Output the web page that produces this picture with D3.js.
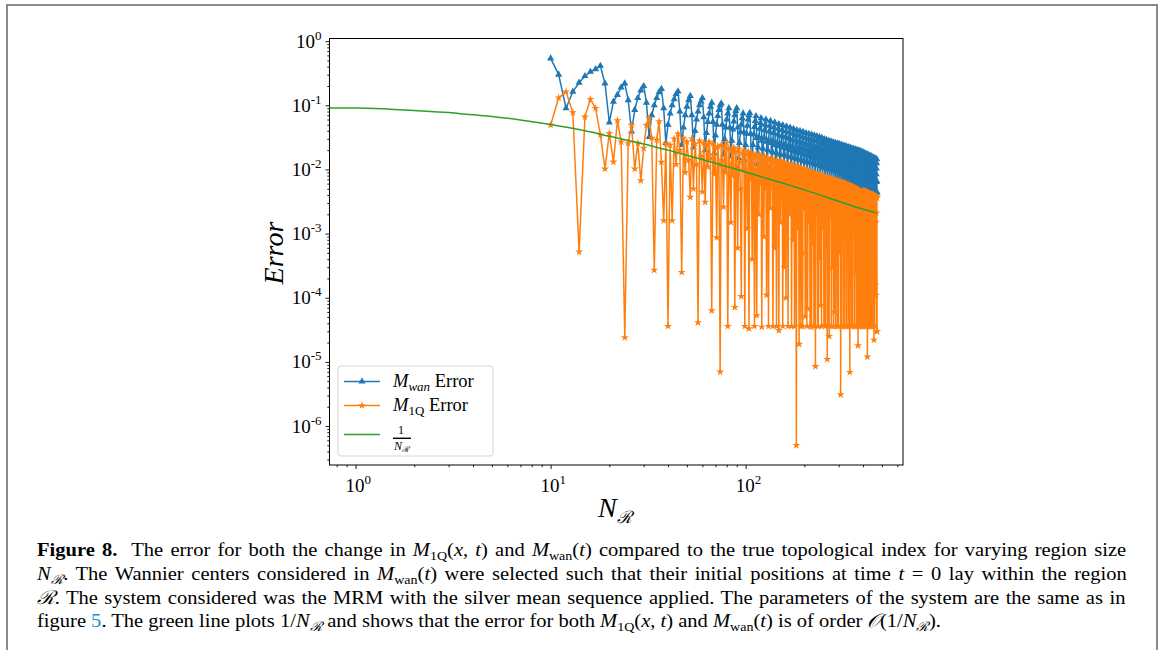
<!DOCTYPE html>
<html>
<head>
<meta charset="utf-8">
<script src="https://cdn.jsdelivr.net/npm/d3@7"></script>
<style>
  body { margin: 0; background: #fff; }
  svg { display: block; }
  text { font-family: "Liberation Serif", "Times New Roman", serif; fill: #000; }
</style>
</head>
<body>
<svg id="fig" width="1163" height="650"></svg>
<script>
// Region sizes N run 10, 11, 12, ... (one point per integer)
const nStart = 10

// M_wan error (N = 10 .. 472)
const blueErr = [
  .54, .30, .090, .163, .225, .286, .333, .367, .413, .22,
  .054, .114, .145, .19, .22, .12, .039, .085, .13, .17,
  .20, .11, .032, .07, .10, .13, .16, .18, .09, .026,
  .05, .075, .10, .125, .15, .165, .08, .024, .045, .07,
  .095, .12, .14, .07, .022, .04, .06, .08, .10, .115,
  .13, .065, .02, .037, .055, .075, .095, .11, .055, .018,
  .034, .05, .068, .085, .10, .107, .05, .017, .03, .045,
  .06, .075, .09, .045, .016, .028, .042, .056, .07, .082,
  .09, .045, .015, .026, .038, .05, .063, .075, .038, .014,
  .024, .036, .048, .06, .07, .076, .036, .013,
  // 108
  .0125, .024, .035, .046, .057, .068, .031,
  .012, .022, .032, .043, .053, .063, .028,
  .0115, .021, .031, .041, .050, .060, .027,
  .011, .020, .029, .039, .048, .057, .026,
  .0105, .019, .028, .037, .045, .054, .024,
  .010, .018, .026, .035, .043, .051, .023,
  .0095, .017, .025, .033, .041, .049, .022,
  .0092, .017, .024, .032, .039, .047, .021,
  .0089, .016, .023, .031, .038, .045, .020,
  .0086, .0155, .022, .029, .036, .043, .019,
  // 178
  .0083, .015, .021, .028, .034, .041, .018,
  .008, .0144, .021, .027, .034, .040, .018,
  .0078, .014, .020, .026, .032, .0385, .017,
  .0076, .0135, .019, .025, .031, .037, .0165,
  .0074, .013, .019, .024, .030, .036, .016,
  .0072, .0128, .018, .024, .029, .035, .0155,
  .007, .0124, .018, .023, .028, .034, .015,
  .0068, .012, .017, .022, .028, .033, .0148,
  .0066, .0117, .017, .022, .027, .032, .0144,
  .0064, .0113, .016, .021, .026, .031, .014,
  // 248
  .0062, .0109, .0156, .020, .025, .0298, .0134,
  .006, .0106, .0152, .0198, .0244, .029, .013,
  .0059, .0103, .0147, .019, .0236, .028, .0126,
  .0058, .0101, .0144, .0187, .023, .0274, .0123,
  .0057, .0099, .014, .0182, .0224, .0266, .012,
  .0056, .0097, .0138, .0179, .022, .026, .0117,
  .0055, .0095, .0135, .0175, .0215, .0255, .0115,
  .0054, .0093, .0132, .0171, .021, .025, .0112,
  .0053, .0091, .0129, .0167, .0205, .0243, .011,
  .0052, .0089, .0126, .0164, .0201, .0238, .0107,
  // 318
  .0052, .0088, .0124, .016, .0197, .0233, .0105,
  .0051, .0086, .0122, .0157, .0193, .0228, .0103,
  .005, .0084, .0119, .0153, .0188, .0222, .01,
  .005, .0084, .0117, .0151, .0184, .0218, .0098,
  .0049, .0082, .0115, .0148, .018, .0213, .0096,
  .0049, .0081, .0113, .0146, .0178, .021, .0095,
  .0048, .008, .0111, .0143, .0174, .0206, .0093,
  .0048, .0079, .011, .014, .0171, .0202, .0091,
  .0047, .0077, .0107, .0138, .0168, .0198, .0089,
  .0047, .0076, .0106, .0135, .0165, .0194, .0087,
  // 388
  .0047, .0076, .0104, .0133, .0161, .019, .0086,
  .0046, .0074, .0102, .0131, .0159, .0187, .0084,
  .0046, .0073, .01, .0126, .0153, .018, .0081,
  .0046, .0072, .0098, .0124, .015, .0176, .0079,
  .0045, .007, .0096, .0121, .0147, .0172, .0077,
  .0045, .007, .0094, .0119, .0143, .0168, .0076,
  .0045, .0069, .0093, .0116, .014, .0164, .0074,
  .0045, .0068, .0091, .0114, .0137, .016, .0072,
  .0044, .0066, .0089, .0111, .0134, .0156, .007,
  .0044, .0066, .0087, .0109, .013, .0152, .0068,
  // 458
  .0044, .0065, .0086, .0106, .0127, .0148, .0067,
  .0044, .0064, .0084, .0104, .0125, .0145, .0065,
  .0044
]

// M_1Q error (N = 10 .. 472, ten per row)
const orangeErr = [
  .049, .131, .163, .077, 5.2e-4, .066, .124, .09, .0345, .0102,
  .0367, .0131, .058, .027, 2.4e-5, .0257, .049, .0102, .0257, .0067,
  .0215, .049, .063, .031, 2.7e-4, .029, .056, .013, .0016, .025,
  3.6e-5, .024, .0016, .030, .012, .036, .02, 2.5e-4, .031, .009,
  .027, .014, 3.7e-3, .03, 5e-3, .025, .012, 4.1e-5, .028, .016,
  4.5e-3, .026, 3.1e-3, .024, .011, .027, .015, 6.3e-5, .025, .0085,
  .022, 8.7e-4, .023, .012, 7e-6, .024, .014, 2.6e-3, .022, .009,
  .026, 3.6e-5, .021, .012, 1.5e-3, .02, .008, .022, 7.1e-5, .019,
  .011, 6e-4, .021, .013, .005, 1.05e-4, .018, .01, .02, 3.6e-5,
  .017, .0085, 1.2e-3, .019, 3.3e-5, .016, .007, .018, 4e-4, .015,
  .009, 3.6e-5, .017, .0065, 5.3e-5, .016, .01, 2e-3, .017, .006,
  .014, 3.5e-5, .015, .008, 9e-4, .016, .005, .013, 1.1e-4, .015,
  .0075, 3.6e-5, .014, .006, 2.5e-3, .015, .0085, .013, 3.6e-5, .0055,
  .014, 6e-4, .013, .007, 3.6e-5, .014, .005, .012, 3.1e-5, .013,
  .0065, 1.5e-3, .0135, .0045, .012, 3.6e-5, .013, .006, 3e-4, .012,
  .007, 1e-4, .0125, .0045, .011, 3.6e-5, .012, .0055, 2e-3, .0115,
  .0065, .011, 3.6e-5, .012, .005, 8e-4, .011, .006, 3.6e-5, .0105,
  .0045, .011, 5e-7, .0105, .0055, 1.2e-3, .011, .004, 1.9e-5, .0105,
  .006, .0095, 3.6e-5, .0105, .0045, 5e-4, 3.6e-5, .01, .0055, .0095,
  2.5e-3, .01, 5.1e-5, .0095, .004, .0098, 3.6e-5, .009, 6.7e-5, .0095,
  .005, 1.5e-3, .0092, .0038, 3.6e-5, .009, .0055, .0088, 3.5e-5, .009,
  .004, 7e-4, .0088, .005, 3.6e-5, .0085, .0035, .0087, 8.5e-6, .0083,
  .0048, 2e-3, .0085, .0036, 3.6e-5, .0082, 3.6e-5, .0084, .0045, 4e-4,
  .008, .0034, 7.6e-5, .0081, .0045, 3.6e-5, .0078, .003, .008, 1.2e-3,
  .0076, .0042, 3.7e-5, .0077, .0032, .0075, 3.6e-5, .0076, .0043, 6e-4,
  .0074, .003, 1.1e-5, .0074, .004, .0072, 3.6e-5, .0073, 2.5e-5, .0071,
  .0032, 1.8e-3, .0072, .0041, .007, 3.6e-5, .0071, .0029, 3e-4, .0069,
  .004, .0068, 3.6e-5, .007, .0028, 6e-5, .0068, .0039, .0066, 3.6e-5,
  .0067, .0027, 1e-3, .0065, .0038, 3.6e-5, .0066, .0026, .0064, 3.6e-5,
  .0065, .0037, 5e-4, .0064, .0026, .0063, .0062, 3.1e-6, .0063, .0036,
  .0062, 3.6e-5, .0061, .0025, 2e-3, .0062, .0035, .006, 3.6e-5, .0061,
  3.6e-5, .006, .0024, 8e-4, .0059, .0034, .006, 3.6e-5, .0058, .0024,
  .0059, 3.6e-5, .0057, .0033, 1.5e-3, .0058, .0023, .0056, 3.6e-5, .0057,
  .0032, .0055, 6.9e-6, .0056, .0023, 4e-4, .0054, .0031, .0055, 3.6e-5,
  .0053, .0022, 3.6e-5, .0054, .003, .0052, 1e-3, .0053, .0021, .0051,
  3.6e-5, .0052, .003, 3.6e-5, .005, .0021, .0051, 2.5e-4, .0049, .0029,
  .005, 3.6e-5, .0048, .002, .0049, 1.8e-3, .0047, 1.8e-5, .0048, .0028,
  .0046, 3.6e-5, .0047, .002, .0045, 3.6e-5, .0046, .0027, 7e-4, .0045,
  .0019, .0044, 3.6e-5, .0045, .0027, 3.6e-5, .0043, .0019, .0044, 3.6e-5,
  .0047, .0026, 1.2e-3, .0046, .0018, .0045, 3.6e-5, .0046, .0026, .0044,
  3.6e-5, .0045, .0018, 3e-4, .0044, .0025, .0045, 3.6e-5, .0043, .0017,
  .0044, 1.2e-5, .0043, .0025, .0042, 3.6e-5, .0043, .0017, 2e-3, .0042,
  .0024, .0041, 3.6e-5, .0042, .0016, .0041, 3.6e-5, .004, .0024, .0041,
  3.6e-5, .0041, .0016, .004, 3.6e-5, .0041, .0023, 1e-3, .004, .0016,
  .0039, 3.6e-5, .004, .0022, .0039, 2.2e-5, .0039, .0015, .0038, 3.6e-5,
  .0039, .0022, 1.6e-4, .0038, .0015, .0037, 1.1e-4, .0038, .0021, .0037,
  3e-5, .0036, 3e-5
]

// green reference curve, sampled off the plot
const greenN = [0.735, 1, 1.5, 2, 3, 4, 5, 7, 10, 15, 20, 30, 40, 50, 70, 100, 150, 200, 300, 400, 470]
const greenErr = [0.0909, 0.0909, 0.087, 0.083, 0.077, 0.071, 0.067, 0.059, 0.050, 0.040, 0.033,
  0.025, 0.020, 0.0167, 0.0125, 0.0091, 0.0063, 0.0048, 0.0032, 0.0024, 0.0021]

const xTicks = [1, 10, 100]
const xTickExp = ["0", "1", "2"]
const yTicks = [1, 1e-1, 1e-2, 1e-3, 1e-4, 1e-5, 1e-6]
const yTickExp = ["0", "-1", "-2", "-3", "-4", "-5", "-6"]

const blueColor = "#1f77b4"
const orangeColor = "#ff7f0e"
const greenColor = "#2ca02c"

const svg = d3.select("#fig")
const box = { left: 329.5, right: 903, top: 38.5, bottom: 465 }

const x = d3.scaleLog().domain([0.735, 641]).range([box.left, box.right])
const y = d3.scaleLog().domain([2.47e-7, 1.1]).range([box.bottom, box.top])

const blue = blueErr.map((v, i) => [nStart + i, v])
const orange = orangeErr.map((v, i) => [nStart + i, v])
const green = greenN.map((n, i) => [n, greenErr[i]])

// page frame
svg.append("path")
  .attr("d", "M7,650V5H1157V650")
  .attr("fill", "none")
  .attr("stroke", "#8a8a8a")
  .attr("stroke-width", 2)

// axes: minor ticks, major ticks
const isPow10 = v => Math.abs(Math.log10(v) - Math.round(Math.log10(v))) < 1e-9
const xMinor = x.ticks().filter(v => !isPow10(v))
const yMinor = y.ticks().filter(v => !isPow10(v))

const xAxisG = svg.append("g").attr("transform", `translate(0,${box.bottom})`)
xAxisG.append("g").call(d3.axisBottom(x).tickValues(xMinor).tickSize(2.2).tickFormat(""))
xAxisG.append("g").call(d3.axisBottom(x).tickValues(xTicks).tickSize(4).tickFormat(""))

const yAxisG = svg.append("g").attr("transform", `translate(${box.left},0)`)
yAxisG.append("g").call(d3.axisLeft(y).tickValues(yMinor).tickSize(2.2).tickFormat(""))
yAxisG.append("g").call(d3.axisLeft(y).tickValues(yTicks).tickSize(4).tickFormat(""))

svg.selectAll(".domain").remove()
svg.selectAll(".tick line").attr("stroke", "#000").attr("stroke-width", 0.9)

// tick labels 10^k
xTicks.forEach((v, i) => {
  const t = svg.append("text")
    .attr("x", x(v) - 10)
    .attr("y", box.bottom + 27)
    .attr("font-size", 19)
  t.append("tspan").text("10")
  t.append("tspan").attr("dy", -8).attr("font-size", 13).text(xTickExp[i])
})

yTicks.forEach((v, i) => {
  const t = svg.append("text")
    .attr("x", box.left - 8)
    .attr("y", y(v) + 6.5)
    .attr("font-size", 19)
    .attr("text-anchor", "end")
  t.append("tspan").text("10")
  t.append("tspan").attr("dy", -8).attr("font-size", 13).text(yTickExp[i])
})

// plot frame
svg.append("rect")
  .attr("x", box.left).attr("y", box.top)
  .attr("width", box.right - box.left).attr("height", box.bottom - box.top)
  .attr("fill", "none").attr("stroke", "#000").attr("stroke-width", 1)

const line = d3.line().x(d => x(d[0])).y(d => y(d[1]))

const tri = d3.symbol().type(d3.symbolTriangle).size(22)
const star = d3.symbol().type(d3.symbolStar).size(20)

const plot = svg.append("g")

function drawSeries(data, color, symbol) {
  plot.append("path")
    .datum(data)
    .attr("d", line)
    .attr("fill", "none")
    .attr("stroke", color)
    .attr("stroke-width", 1.5)
    .attr("stroke-linejoin", "round")
  plot.append("g")
    .selectAll("path")
    .data(data)
    .join("path")
    .attr("d", symbol)
    .attr("transform", d => `translate(${x(d[0])},${y(d[1])})`)
    .attr("fill", color)
}

drawSeries(blue, blueColor, tri)
drawSeries(orange, orangeColor, star)

plot.append("path")
  .datum(green)
  .attr("d", line.curve(d3.curveMonotoneX))
  .attr("fill", "none")
  .attr("stroke", greenColor)
  .attr("stroke-width", 1.5)

// axis labels
svg.append("text")
  .attr("transform", "translate(283,253) rotate(-90)")
  .attr("text-anchor", "middle")
  .attr("font-size", 28)
  .attr("font-style", "italic")
  .text("Error")

const xl = svg.append("text")
  .attr("x", 598)
  .attr("y", 517)
  .attr("font-size", 28)
xl.append("tspan").attr("font-style", "italic").text("N")
xl.append("tspan").attr("dy", 6).attr("font-size", 17)
  .attr("font-family", "DejaVu Serif").attr("font-style", "italic").text("ℛ")

// legend
const lg = svg.append("g")
lg.append("rect")
  .attr("x", 338).attr("y", 366).attr("width", 155).attr("height", 90)
  .attr("rx", 3)
  .attr("fill", "#fff").attr("fill-opacity", 0.8)
  .attr("stroke", "#d5d5d5")

const legendRows = [
  { y: 381.5, color: blueColor, symbol: tri, sub: "wan" },
  { y: 405.5, color: orangeColor, symbol: star, sub: "1Q" },
  { y: 434.5, color: greenColor, symbol: null }
]
legendRows.forEach(r => {
  lg.append("line")
    .attr("x1", 344).attr("x2", 380).attr("y1", r.y).attr("y2", r.y)
    .attr("stroke", r.color).attr("stroke-width", 1.5)
  if (r.symbol) {
    lg.append("path").attr("d", r.symbol)
      .attr("transform", `translate(362,${r.y})`).attr("fill", r.color)
    const t = lg.append("text").attr("x", 393).attr("y", r.y + 5.5).attr("font-size", 18.5)
    t.append("tspan").attr("font-style", "italic").text("M")
    t.append("tspan").attr("dy", 4).attr("font-size", 13)
      .attr("font-style", r.sub === "wan" ? "italic" : "normal").text(r.sub)
    t.append("tspan").attr("dy", -4).text(" Error")
  }
})
lg.append("text").attr("x", 401).attr("y", 433.5).attr("font-size", 12)
  .attr("text-anchor", "middle").text("1")
lg.append("line").attr("x1", 393).attr("x2", 411).attr("y1", 438.3).attr("y2", 438.3)
  .attr("stroke", "#000").attr("stroke-width", 1.4)
const fr = lg.append("text").attr("x", 394).attr("y", 449.5).attr("font-size", 12)
fr.append("tspan").attr("font-style", "italic").text("N")
fr.append("tspan").attr("dy", 2).attr("font-size", 8)
  .attr("font-family", "DejaVu Serif").attr("font-style", "italic").text("ℛ")

// caption
const captionLines = [
  { y: 556, justify: true, parts: [
    ["Figure 8.", "b"], ["  The error for both the change in ", ""], ["M", "i"], ["1Q", "sub"],
    ["(", ""], ["x", "i"], [", ", ""], ["t", "i"], [") and ", ""], ["M", "i"], ["wan", "sub"],
    ["(", ""], ["t", "i"], [") compared to the true topological index for varying region size", ""]] },
  { y: 580, justify: true, parts: [
    ["N", "i"], ["ℛ", "subscr"], [". The Wannier centers considered in ", ""], ["M", "i"], ["wan", "sub"],
    ["(", ""], ["t", "i"], [") were selected such that their initial positions at time ", ""], ["t", "i"],
    [" = 0 lay within the region", ""]] },
  { y: 603.5, justify: true, parts: [
    ["ℛ", "scr"], [". The system considered was the MRM with the silver mean sequence applied. The parameters of the system are the same as in", ""]] },
  { y: 627, justify: false, parts: [
    ["figure ", ""], ["5", "link"], [". The green line plots 1/", ""], ["N", "i"], ["ℛ", "subscr"],
    [" and shows that the error for both ", ""], ["M", "i"], ["1Q", "sub"], ["(", ""], ["x", "i"], [", ", ""],
    ["t", "i"], [") and ", ""], ["M", "i"], ["wan", "sub"], ["(", ""], ["t", "i"], [") is of order ", ""],
    ["𝒪", "scr"], ["(1/", ""], ["N", "i"], ["ℛ", "subscr"], [").", ""]] }
]
const captionLeft = 37
const captionWidth = 1090

const captionTexts = captionLines.map(l => {
  const t = svg.append("text")
    .attr("transform", `translate(${captionLeft},${l.y})`)
    .attr("font-size", 19)
    .attr("xml:space", "preserve")
  let shifted = false
  l.parts.forEach(([s, kind]) => {
    const sp = t.append("tspan").text(s)
    const isSub = kind === "sub" || kind === "subscr"
    if (isSub && !shifted) { sp.attr("dy", 4); shifted = true }
    else if (!isSub && shifted) { sp.attr("dy", -4); shifted = false }
    if (isSub) sp.attr("font-size", 13)
    if (kind === "i") sp.attr("font-style", "italic")
    if (kind === "b") sp.attr("font-weight", "bold")
    if (kind === "link") sp.style("fill", "#1e90d6")
    if (kind === "scr" || kind === "subscr") sp.attr("font-family", "DejaVu Serif").attr("font-style", "italic")
  })
  return t
})

// the printed caption font is a little narrower: squeeze, then justify by word spacing
const plainNode = captionTexts[2].node()
const squeeze = 1060 / plainNode.getComputedTextLength()
captionTexts.forEach((t, i) => {
  const l = captionLines[i]
  if (l.justify) {
    const natural = t.node().getComputedTextLength()
    const spaces = l.parts.map(p => p[0]).join("").split(" ").length - 1
    t.attr("word-spacing", (captionWidth / squeeze - natural) / spaces)
  }
  t.attr("transform", `translate(${captionLeft},${l.y}) scale(${squeeze},1)`)
})
</script>
</body>
</html>
